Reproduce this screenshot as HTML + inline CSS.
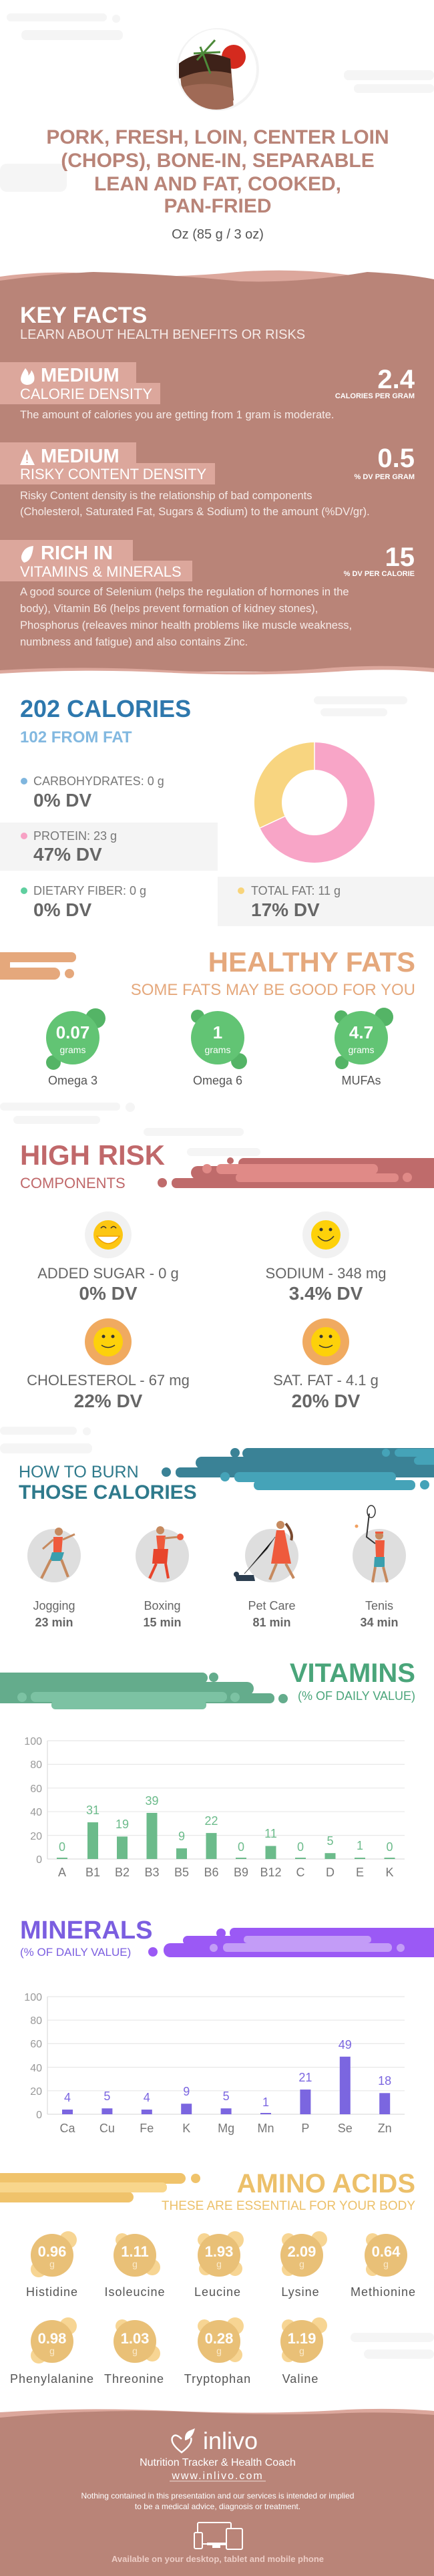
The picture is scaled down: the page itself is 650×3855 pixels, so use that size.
<!DOCTYPE html>
<html><head><meta charset="utf-8"><style>
html,body{margin:0;padding:0;background:#fff;}
svg{display:block;}
text{font-family:"Liberation Sans",sans-serif;}
</style></head><body>
<svg width="650" height="3855" viewBox="0 0 650 3855" xmlns="http://www.w3.org/2000/svg">
<g fill="#f5f5f5">
<rect x="10" y="20" width="150" height="12" rx="6"/><rect x="32" y="45" width="152" height="15" rx="7"/><circle cx="174" cy="28" r="6"/>
<rect x="515" y="105" width="135" height="15" rx="7"/><rect x="530" y="126" width="120" height="13" rx="6"/>
<rect x="0" y="245" width="100" height="42" rx="10"/>
<rect x="470" y="1042" width="140" height="12" rx="6"/><rect x="480" y="1060" width="100" height="12" rx="6"/>
<rect x="0" y="1650" width="180" height="12" rx="6"/><rect x="20" y="1670" width="130" height="12" rx="6"/><circle cx="195" cy="1657" r="7"/>
<rect x="215" y="1688" width="150" height="12" rx="6"/><rect x="280" y="1718" width="110" height="12" rx="6"/>
<rect x="0" y="2135" width="115" height="12" rx="6"/><rect x="0" y="2160" width="138" height="15" rx="7"/><circle cx="130" cy="2142" r="6"/>
<rect x="525" y="3491" width="125" height="14" rx="7"/><rect x="545" y="3516" width="105" height="14" rx="7"/>
</g>
<ellipse cx="326" cy="104" rx="62" ry="62" fill="#f3f3f3"/>
<circle cx="326" cy="104" r="58" fill="#fff"/>
<clipPath id="fc"><ellipse cx="324" cy="104" rx="57" ry="60"/></clipPath>
<g clip-path="url(#fc)">
<rect x="260" y="40" width="130" height="130" fill="#fff"/>
<ellipse cx="350" cy="85" rx="18" ry="18" fill="#d42a1e"/>
<path d="M268 95 Q300 70 345 88 L350 150 Q320 170 275 160 Z" fill="#8a5a45"/>
<path d="M268 95 Q300 70 345 88 L346 110 Q305 100 268 118 Z" fill="#3e2219"/>
<path d="M275 130 Q310 120 348 132 L350 165 L275 165 Z" fill="#a06a56"/>
<path d="M300 70 L315 110 M290 80 L330 78 M295 90 L322 60" stroke="#4d8a3a" stroke-width="3"/>
</g>
<g font-weight="bold" font-size="30" fill="#b98478" text-anchor="middle">
<text x="326" y="215">PORK, FRESH, LOIN, CENTER LOIN</text>
<text x="326" y="250">(CHOPS), BONE-IN, SEPARABLE</text>
<text x="326" y="285">LEAN AND FAT, COOKED,</text>
<text x="326" y="318">PAN-FRIED</text>
</g>
<text x="326" y="357" font-size="20" fill="#555" text-anchor="middle">Oz (85 g / 3 oz)</text>
<path d="M0 414 Q70 404 150 410 Q250 418 355 407 Q450 400 540 414 Q600 420 650 418 L650 430 L0 430Z" fill="#dca79c"/>
<path d="M0 420 Q70 410 140 407 Q250 410 360 421 Q450 424 550 407 Q610 410 650 418 L650 1005 L0 1005Z" fill="#b98478"/>
<text x="30" y="483" font-size="34" font-weight="bold" fill="#fff">KEY FACTS</text>
<text x="30" y="507" font-size="20" fill="#f6ebe8">LEARN ABOUT HEALTH BENEFITS OR RISKS</text>
<g fill="#dca79c">
<rect x="0" y="542" width="204" height="32"/><rect x="0" y="573" width="240" height="32"/>
<rect x="0" y="662" width="204" height="32"/><rect x="0" y="693" width="322" height="32"/>
<rect x="0" y="808" width="199" height="32"/><rect x="0" y="839" width="288" height="31"/>
</g>
<g fill="#fff">
<path d="M38 551 Q44 558 42 562 Q46 559 47 554 Q53 562 51 570 Q48 576 40 576 Q32 575 31 568 Q31 561 38 551Z"/>
<path d="M40 672 L52 696 L30 696Z"/><rect x="39.5" y="680" width="2" height="9" fill="#dca79c"/><rect x="39.5" y="691" width="2" height="2" fill="#dca79c"/>
<path d="M50 817 Q36 818 32 832 Q31 838 36 842 Q48 840 50 817Z"/>
</g>
<g fill="#fff" font-weight="bold">
<text x="61" y="571" font-size="29">MEDIUM</text>
<text x="61" y="692" font-size="29">MEDIUM</text>
<text x="61" y="837" font-size="29">RICH  IN</text>
<text x="621" y="581" font-size="40" text-anchor="end">2.4</text>
<text x="621" y="596" font-size="11" text-anchor="end">CALORIES PER GRAM</text>
<text x="621" y="699" font-size="40" text-anchor="end">0.5</text>
<text x="621" y="717" font-size="11" text-anchor="end">% DV PER GRAM</text>
<text x="621" y="847" font-size="40" text-anchor="end">15</text>
<text x="621" y="862" font-size="11" text-anchor="end">% DV PER CALORIE</text>
</g>
<g fill="#fff" font-size="22">
<text x="30" y="597">CALORIE DENSITY</text>
<text x="30" y="717">RISKY CONTENT DENSITY</text>
<text x="30" y="863">VITAMINS &amp; MINERALS</text>
</g>
<g fill="#f6ebe8" font-size="16.5">
<text x="30" y="626">The amount of calories you are getting from 1 gram is moderate.</text>
<text x="30" y="747">Risky Content density is the relationship of bad components</text>
<text x="30" y="771">(Cholesterol, Saturated Fat, Sugars &amp; Sodium) to the amount (%DV/gr).</text>
<text x="30" y="891">A good source of Selenium (helps the regulation of hormones in the</text>
<text x="30" y="916">body), Vitamin B6 (helps prevent formation of kidney stones),</text>
<text x="30" y="941">Phosphorus (releaves minor health problems like muscle weakness,</text>
<text x="30" y="966">numbness and fatigue) and also contains Zinc.</text>
</g>
<path d="M0 1003 Q120 996 250 1003 Q380 1010 500 999 Q580 994 650 1000 L650 1012 L0 1012Z" fill="#dca79c"/>
<path d="M0 1008 Q130 1000 260 1007 Q390 1013 520 1004 Q590 1000 650 1006 L650 1020 L0 1020Z" fill="#fff"/>
<text x="30" y="1073" font-size="36" font-weight="bold" fill="#2e78ad">202 CALORIES</text>
<text x="30" y="1111" font-size="24" font-weight="bold" fill="#82b8e0">102 FROM FAT</text>
<rect x="0" y="1231" width="326" height="72" fill="#f4f4f4"/>
<rect x="326" y="1312" width="324" height="74" fill="#f4f4f4"/>
<circle cx="36" cy="1169" r="5" fill="#7fb6de"/>
<circle cx="36" cy="1251" r="5" fill="#f7a1c4"/>
<circle cx="36" cy="1333" r="5" fill="#5fcf9f"/>
<circle cx="361" cy="1333" r="5" fill="#f8d47a"/>
<g font-size="18" fill="#777">
<text x="50" y="1175">CARBOHYDRATES: 0 g</text>
<text x="50" y="1257">PROTEIN: 23 g</text>
<text x="50" y="1339">DIETARY FIBER: 0 g</text>
<text x="376" y="1339">TOTAL FAT: 11 g</text>
</g>
<g font-size="28" font-weight="bold" fill="#666">
<text x="50" y="1207">0% DV</text>
<text x="50" y="1288">47% DV</text>
<text x="50" y="1371">0% DV</text>
<text x="376" y="1371">17% DV</text>
</g>
<path d="M471 1111 A90 90 0 1 1 389.4 1239 L426.6 1221.7 A49 49 0 1 0 471 1152 Z" fill="#f8a5c7"/>
<path d="M471 1111 A90 90 0 0 0 389.4 1239 L426.6 1221.7 A49 49 0 0 1 471 1152 Z" fill="#f8d580"/>
<line x1="471" y1="1111" x2="471" y2="1152" stroke="#fff" stroke-width="1.5"/>
<line x1="389.4" y1="1239" x2="426.6" y2="1221.7" stroke="#fff" stroke-width="1.5"/>
<g fill="#e5a87c">
<rect x="-10" y="1425" width="124" height="15" rx="7"/>
<rect x="-10" y="1448" width="100" height="18" rx="9"/>
<circle cx="104" cy="1457" r="7"/>
</g>
<rect x="0" y="1440" width="15" height="8" fill="#e5a87c"/>
<text x="622" y="1454" font-size="42" font-weight="bold" fill="#e5a87c" text-anchor="end">HEALTHY FATS</text>
<text x="622" y="1489" font-size="24" fill="#e5a87c" text-anchor="end">SOME FATS MAY BE GOOD FOR YOU</text>
<g fill="#54b466">
<circle cx="143" cy="1524" r="15"/><circle cx="80" cy="1590" r="11"/>
<circle cx="296" cy="1521" r="10"/><circle cx="358" cy="1588" r="12"/>
<circle cx="511" cy="1522" r="10"/><circle cx="575" cy="1522" r="14"/><circle cx="512" cy="1590" r="10"/>
</g>
<g fill="#62c474">
<circle cx="109" cy="1553" r="40"/><circle cx="326" cy="1553" r="40"/><circle cx="541" cy="1553" r="40"/>
</g>
<g fill="#fff" text-anchor="middle">
<text x="109" y="1554" font-size="26" font-weight="bold">0.07</text>
<text x="326" y="1554" font-size="26" font-weight="bold">1</text>
<text x="541" y="1554" font-size="26" font-weight="bold">4.7</text>
<text x="109" y="1576" font-size="14">grams</text>
<text x="326" y="1576" font-size="14">grams</text>
<text x="541" y="1576" font-size="14">grams</text>
</g>
<g font-size="18" fill="#555" text-anchor="middle">
<text x="109" y="1623">Omega 3</text><text x="326" y="1623">Omega 6</text><text x="541" y="1623">MUFAs</text>
</g>
<g fill="#bf6b6b">
<rect x="357" y="1733" width="320" height="16" rx="8"/>
<rect x="286" y="1745" width="380" height="20" rx="10"/>
<rect x="257" y="1763" width="420" height="15" rx="7"/>
<circle cx="243" cy="1770" r="7"/><circle cx="345" cy="1737" r="5"/>
</g>
<g fill="#e08a87">
<rect x="324" y="1742" width="242" height="15" rx="7"/>
<rect x="353" y="1756" width="244" height="13" rx="6"/>
<circle cx="310" cy="1749" r="7"/><circle cx="610" cy="1762" r="7"/>
</g>
<text x="30" y="1743" font-size="42" font-weight="bold" fill="#c0686a">HIGH RISK</text>
<text x="30" y="1778" font-size="22" fill="#c0686a">COMPONENTS</text>
<circle cx="162" cy="1848" r="35" fill="#f1f1f1"/><circle cx="488" cy="1848" r="35" fill="#f1f1f1"/>
<circle cx="162" cy="2008" r="35" fill="#f0aa60"/><circle cx="488" cy="2008" r="35" fill="#f0aa60"/>
<g fill="#fcc612"><circle cx="162" cy="1848" r="22"/></g>
<g fill="#fdd10a"><circle cx="488" cy="1848" r="22"/><circle cx="162" cy="2008" r="22"/><circle cx="488" cy="2008" r="22"/></g>
<path d="M145 1850 Q162 1872 179 1850 Z" fill="#fff" stroke="#f0a000" stroke-width="1.5"/>
<path d="M151 1838 q4 -5 8 0 M166 1838 q4 -5 8 0" stroke="#333" stroke-width="1.5" fill="none"/>
<g fill="#333"><circle cx="481" cy="1840" r="2.5"/><circle cx="495" cy="1840" r="2.5"/><circle cx="155" cy="2000" r="2.5"/><circle cx="169" cy="2000" r="2.5"/><circle cx="481" cy="2000" r="2.5"/><circle cx="495" cy="2000" r="2.5"/></g>
<g stroke="#333" stroke-width="1.5" fill="none">
<path d="M476 1850 Q488 1864 500 1850"/><path d="M152 2013 Q162 2020 172 2013"/><path d="M478 2013 Q488 2020 498 2013"/>
</g>
<g font-size="22" fill="#666" text-anchor="middle">
<text x="162" y="1913">ADDED SUGAR - 0 g</text><text x="488" y="1913">SODIUM - 348 mg</text>
<text x="162" y="2073">CHOLESTEROL - 67 mg</text><text x="488" y="2073">SAT. FAT - 4.1 g</text>
</g>
<g font-size="28" font-weight="bold" fill="#666" text-anchor="middle">
<text x="162" y="1945">0% DV</text><text x="488" y="1945">3.4% DV</text>
<text x="162" y="2106">22% DV</text><text x="488" y="2106">20% DV</text>
</g>
<g fill="#3a8296">
<rect x="363" y="2167" width="300" height="16" rx="8"/><circle cx="352" cy="2174" r="7"/>
<rect x="293" y="2180" width="370" height="18" rx="9"/>
<rect x="263" y="2196" width="400" height="15" rx="7"/><circle cx="249" cy="2203" r="7"/>
</g>
<g fill="#45a3b8">
<rect x="351" y="2203" width="242" height="15" rx="7"/><circle cx="337" cy="2210" r="7"/>
<rect x="380" y="2215" width="242" height="15" rx="7"/><circle cx="636" cy="2222" r="7"/>
<rect x="591" y="2168" width="70" height="12" rx="6"/><circle cx="578" cy="2174" r="6"/>
<rect x="620" y="2180" width="40" height="12" rx="6"/>
</g>
<text x="28" y="2211" font-size="25" fill="#2f7a8c">HOW TO BURN</text>
<text x="28" y="2243" font-size="30" font-weight="bold" fill="#2f7a8c">THOSE CALORIES</text>
<g fill="#dedede"><circle cx="81" cy="2328" r="40"/><circle cx="243" cy="2328" r="40"/><circle cx="407" cy="2328" r="40"/><circle cx="568" cy="2328" r="40"/></g>
<g>
<circle cx="88" cy="2292" r="6" fill="#c68a5f"/><path d="M80 2300 L94 2300 L92 2325 L80 2325Z" fill="#ef5a3c"/>
<path d="M78 2323 L96 2323 L92 2336 L74 2336Z" fill="#3a9fae"/><path d="M76 2334 L62 2362 M92 2334 L102 2360" stroke="#c68a5f" stroke-width="4"/>
<path d="M80 2304 L64 2318 M94 2304 L112 2296" stroke="#c68a5f" stroke-width="3"/>
<circle cx="240" cy="2290" r="6" fill="#c68a5f"/><path d="M234 2298 L248 2298 L246 2318 L236 2318Z" fill="#ef5a3c"/>
<path d="M246 2302 L268 2300" stroke="#c68a5f" stroke-width="3"/><circle cx="270" cy="2300" r="5" fill="#ef5a3c"/>
<path d="M230 2318 L252 2318 L250 2340 L228 2340Z" fill="#e8452c"/><path d="M234 2340 L224 2362 M248 2340 L252 2362" stroke="#e8452c" stroke-width="4"/>
<circle cx="420" cy="2282" r="6" fill="#c68a5f"/><path d="M428 2280 Q440 2295 436 2305" stroke="#7a4a30" stroke-width="4" fill="none"/>
<path d="M414 2290 L426 2290 L436 2340 L406 2340Z" fill="#ef5a3c"/><path d="M414 2340 L404 2364 M428 2340 L440 2362" stroke="#c68a5f" stroke-width="4"/>
<path d="M412 2300 L400 2318 L366 2355" stroke="#555" stroke-width="1"/>
<path d="M352 2357 L380 2357 L382 2366 L354 2366Z" fill="#2c3e50"/><circle cx="354" cy="2356" r="4" fill="#2c3e50"/>
<circle cx="568" cy="2298" r="6" fill="#c68a5f"/><rect x="562" y="2292" width="12" height="3" fill="#ef5a3c"/>
<path d="M562 2305 L576 2305 L575 2330 L563 2330Z" fill="#ef5a3c"/><path d="M561 2330 L576 2330 L576 2345 L560 2345Z" fill="#3a9fae"/>
<path d="M562 2345 L558 2368 M574 2345 L580 2368" stroke="#c68a5f" stroke-width="4"/>
<path d="M562 2310 L549 2300 L553 2265" stroke="#333" stroke-width="2" fill="none"/><ellipse cx="556" cy="2262" rx="6" ry="9" fill="none" stroke="#333" stroke-width="1.5"/>
<circle cx="534" cy="2284" r="2.5" fill="#f0a060"/>
</g>
<g font-size="18" fill="#666" text-anchor="middle">
<text x="81" y="2409">Jogging</text><text x="243" y="2409">Boxing</text><text x="407" y="2409">Pet Care</text><text x="568" y="2409">Tenis</text>
</g>
<g font-size="18" font-weight="bold" fill="#666" text-anchor="middle">
<text x="81" y="2434">23 min</text><text x="243" y="2434">15 min</text><text x="407" y="2434">81 min</text><text x="568" y="2434">34 min</text>
</g>
<g fill="#64ac8c">
<rect x="-10" y="2503" width="321" height="16" rx="8"/><circle cx="320" cy="2510" r="7"/>
<rect x="-10" y="2517" width="390" height="20" rx="10"/>
<rect x="-10" y="2534" width="421" height="15" rx="7"/><circle cx="424" cy="2542" r="7"/>
</g>
<g fill="#7cc2a3">
<rect x="46" y="2532" width="294" height="15" rx="7"/><circle cx="33" cy="2540" r="7"/><circle cx="352" cy="2540" r="7"/>
<rect x="77" y="2545" width="232" height="13" rx="6"/>
</g>
<text x="622" y="2517" font-size="40" font-weight="bold" fill="#4aa57a" text-anchor="end">VITAMINS</text>
<text x="622" y="2544" font-size="18" fill="#4aa57a" text-anchor="end">(% OF DAILY VALUE)</text>
<g stroke="#e8e8e8" stroke-width="1.2">
<line x1="71" y1="2605" x2="606" y2="2605"/><line x1="71" y1="2640.4" x2="606" y2="2640.4"/><line x1="71" y1="2675.8" x2="606" y2="2675.8"/><line x1="71" y1="2711.2" x2="606" y2="2711.2"/><line x1="71" y1="2746.6" x2="606" y2="2746.6"/>
<line x1="71" y1="2782" x2="606" y2="2782" stroke="#ddd"/><line x1="71" y1="2605" x2="71" y2="2782" stroke="#ddd"/>
</g>
<g font-size="16" fill="#999" text-anchor="end">
<text x="63" y="2611">100</text><text x="63" y="2646">80</text><text x="63" y="2682">60</text><text x="63" y="2717">40</text><text x="63" y="2753">20</text><text x="63" y="2788">0</text>
</g>
<g fill="#6cbb8b">
<rect x="85" y="2780" width="16" height="2"/>
<rect x="131" y="2727.1" width="16" height="54.9"/>
<rect x="175" y="2748.4" width="16" height="33.6"/>
<rect x="219.5" y="2713" width="16" height="69"/>
<rect x="264" y="2766.1" width="16" height="15.9"/>
<rect x="308.5" y="2743.1" width="16" height="38.9"/>
<rect x="353" y="2780" width="16" height="2"/>
<rect x="397.5" y="2762.5" width="16" height="19.5"/>
<rect x="442" y="2780" width="16" height="2"/>
<rect x="486.5" y="2773.2" width="16" height="8.8"/>
<rect x="531" y="2780" width="16" height="2"/>
<rect x="575.5" y="2780" width="16" height="2"/>
</g>
<g font-size="18" fill="#6cbb8b" text-anchor="middle">
<text x="93" y="2770">0</text><text x="139" y="2715">31</text><text x="183" y="2736">19</text><text x="227.5" y="2701">39</text>
<text x="272" y="2754">9</text><text x="316.5" y="2731">22</text><text x="361" y="2770">0</text><text x="405.5" y="2750">11</text>
<text x="450" y="2770">0</text><text x="494.5" y="2761">5</text><text x="539" y="2768">1</text><text x="583.5" y="2770">0</text>
</g>
<g font-size="18" fill="#777" text-anchor="middle">
<text x="93" y="2808">A</text><text x="139" y="2808">B1</text><text x="183" y="2808">B2</text><text x="227.5" y="2808">B3</text>
<text x="272" y="2808">B5</text><text x="316.5" y="2808">B6</text><text x="361" y="2808">B9</text><text x="405.5" y="2808">B12</text>
<text x="450" y="2808">C</text><text x="494.5" y="2808">D</text><text x="539" y="2808">E</text><text x="583.5" y="2808">K</text>
</g>
<g fill="#9b59f5">
<rect x="344" y="2885" width="320" height="15" rx="7"/><circle cx="331" cy="2893" r="7"/>
<rect x="274" y="2897" width="390" height="14" rx="7"/>
<rect x="245" y="2908" width="420" height="21" rx="10"/><circle cx="229" cy="2921" r="7"/>
</g>
<g fill="#c39cf7">
<rect x="365" y="2897" width="191" height="11" rx="5"/>
<rect x="334" y="2908" width="253" height="13" rx="6"/><circle cx="320" cy="2915" r="6"/><circle cx="600" cy="2915" r="6"/>
</g>
<text x="30" y="2901" font-size="38" font-weight="bold" fill="#7b5ee0">MINERALS</text>
<text x="30" y="2927" font-size="17" fill="#7b5ee0">(% OF DAILY VALUE)</text>
<g stroke="#e8e8e8" stroke-width="1.2">
<line x1="71" y1="2988" x2="606" y2="2988"/><line x1="71" y1="3023.2" x2="606" y2="3023.2"/><line x1="71" y1="3058.4" x2="606" y2="3058.4"/><line x1="71" y1="3093.6" x2="606" y2="3093.6"/><line x1="71" y1="3128.8" x2="606" y2="3128.8"/>
<line x1="71" y1="3164" x2="606" y2="3164" stroke="#ddd"/><line x1="71" y1="2988" x2="71" y2="3164" stroke="#ddd"/>
</g>
<g font-size="16" fill="#999" text-anchor="end">
<text x="63" y="2994">100</text><text x="63" y="3029">80</text><text x="63" y="3064">60</text><text x="63" y="3100">40</text><text x="63" y="3135">20</text><text x="63" y="3170">0</text>
</g>
<g fill="#7b66e0">
<rect x="93" y="3157" width="16" height="7"/>
<rect x="152.4" y="3155.2" width="16" height="8.8"/>
<rect x="211.8" y="3157" width="16" height="7"/>
<rect x="271.2" y="3148.2" width="16" height="15.8"/>
<rect x="330.6" y="3155.2" width="16" height="8.8"/>
<rect x="390" y="3162" width="16" height="2"/>
<rect x="449.4" y="3127" width="16" height="37"/>
<rect x="508.8" y="3077.8" width="16" height="86.2"/>
<rect x="568.2" y="3132.3" width="16" height="31.7"/>
</g>
<g font-size="18" fill="#7b66e0" text-anchor="middle">
<text x="101" y="3145">4</text><text x="160.4" y="3143">5</text><text x="219.8" y="3145">4</text><text x="279.2" y="3136">9</text>
<text x="338.6" y="3143">5</text><text x="398" y="3152">1</text><text x="457.4" y="3115">21</text><text x="516.8" y="3066">49</text><text x="576.2" y="3120">18</text>
</g>
<g font-size="18" fill="#777" text-anchor="middle">
<text x="101" y="3191">Ca</text><text x="160.4" y="3191">Cu</text><text x="219.8" y="3191">Fe</text><text x="279.2" y="3191">K</text>
<text x="338.6" y="3191">Mg</text><text x="398" y="3191">Mn</text><text x="457.4" y="3191">P</text><text x="516.8" y="3191">Se</text><text x="576.2" y="3191">Zn</text>
</g>
<g fill="#f0c36b">
<rect x="-10" y="3252" width="288" height="16" rx="8"/><circle cx="293" cy="3260" r="7"/>
<rect x="-10" y="3280" width="210" height="16" rx="8"/><circle cx="191" cy="3289" r="7"/>
</g>
<g fill="#f8d68c"><rect x="-10" y="3266" width="260" height="15" rx="7"/><circle cx="202" cy="3274" r="7"/></g>
<text x="622" y="3281" font-size="40" font-weight="bold" fill="#ecc06a" text-anchor="end">AMINO ACIDS</text>
<text x="622" y="3307" font-size="19" fill="#ecc06a" text-anchor="end">THESE ARE ESSENTIAL FOR YOUR BODY</text>
<g fill="#f7d593">
<circle cx="102" cy="3352" r="13"/><circle cx="58" cy="3396" r="12"/>
<circle cx="183" cy="3352" r="10"/><circle cx="228" cy="3393" r="12"/>
<circle cx="306" cy="3352" r="10"/><circle cx="352" cy="3352" r="13"/><circle cx="308" cy="3395" r="10"/><circle cx="352" cy="3395" r="11"/>
<circle cx="432" cy="3352" r="10"/><circle cx="478" cy="3351" r="12"/><circle cx="432" cy="3396" r="10"/>
<circle cx="558" cy="3352" r="10"/><circle cx="558" cy="3396" r="10"/>
<circle cx="102" cy="3481" r="13"/><circle cx="58" cy="3525" r="12"/>
<circle cx="183" cy="3481" r="10"/><circle cx="228" cy="3522" r="12"/>
<circle cx="306" cy="3481" r="10"/><circle cx="352" cy="3481" r="13"/><circle cx="352" cy="3524" r="11"/>
<circle cx="432" cy="3481" r="10"/><circle cx="478" cy="3480" r="12"/><circle cx="432" cy="3525" r="10"/>
</g>
<g fill="#e9c077">
<circle cx="78" cy="3375" r="32"/><circle cx="202" cy="3375" r="32"/><circle cx="328" cy="3375" r="32"/><circle cx="452" cy="3375" r="32"/><circle cx="578" cy="3375" r="32"/>
<circle cx="78" cy="3504" r="32"/><circle cx="202" cy="3504" r="32"/><circle cx="328" cy="3504" r="32"/><circle cx="452" cy="3504" r="32"/>
</g>
<g fill="#fff" font-size="22" font-weight="bold" text-anchor="middle">
<text x="78" y="3377">0.96</text><text x="202" y="3377">1.11</text><text x="328" y="3377">1.93</text><text x="452" y="3377">2.09</text><text x="578" y="3377">0.64</text>
<text x="78" y="3507">0.98</text><text x="202" y="3507">1.03</text><text x="328" y="3507">0.28</text><text x="452" y="3507">1.19</text>
</g>
<g fill="#fbeacb" font-size="14" text-anchor="middle">
<text x="78" y="3393">g</text><text x="202" y="3393">g</text><text x="328" y="3393">g</text><text x="452" y="3393">g</text><text x="578" y="3393">g</text>
<text x="78" y="3523">g</text><text x="202" y="3523">g</text><text x="328" y="3523">g</text><text x="452" y="3523">g</text>
</g>
<g fill="#555" font-size="18" letter-spacing="1" text-anchor="middle">
<text x="78" y="3436">Histidine</text><text x="202" y="3436">Isoleucine</text><text x="326" y="3436">Leucine</text><text x="450" y="3436">Lysine</text><text x="574" y="3436">Methionine</text>
<text x="78" y="3566">Phenylalanine</text><text x="201" y="3566">Threonine</text><text x="326" y="3566">Tryptophan</text><text x="450" y="3566">Valine</text>
</g>
<path d="M0 3610 Q120 3602 260 3608 Q400 3614 520 3606 Q590 3603 650 3608 L650 3625 L0 3625Z" fill="#dca79c"/>
<path d="M0 3618 Q130 3605 270 3609 Q420 3616 520 3611 Q590 3609 650 3614 L650 3855 L0 3855Z" fill="#b98478"/>
<path d="M272 3650 Q262 3640 258 3648 Q255 3657 272 3670 Q289 3657 286 3648" fill="none" stroke="#fff" stroke-width="2.5"/>
<path d="M285 3637 Q276 3640 277 3652 Q288 3650 292 3634Z" fill="#fff"/>
<text x="304" y="3665" font-size="36" fill="#fff">inlivo</text>
<g fill="#fff" text-anchor="middle">
<text x="326" y="3690" font-size="16">Nutrition Tracker &amp; Health Coach</text>
<text x="326" y="3710" font-size="16" letter-spacing="2">www.inlivo.com</text>
<text x="326" y="3739" font-size="12">Nothing contained in this presentation and our services is intended or implied</text>
<text x="326" y="3755" font-size="12">to be a medical advice, diagnosis or treatment.</text>
</g>
<line x1="254" y1="3713" x2="398" y2="3713" stroke="#f0dcd8" stroke-width="1"/>
<g fill="none" stroke="#fff" stroke-width="2">
<rect x="296" y="3775" width="50" height="32" rx="2"/>
<rect x="291" y="3790" width="12" height="24" rx="2" fill="#b98478"/>
<rect x="339" y="3784" width="24" height="31" rx="2" fill="#b98478"/>
</g>
<rect x="310" y="3805" width="28" height="4" fill="#fff"/><rect x="318" y="3809" width="12" height="4" fill="#fff"/>
<text x="326" y="3834" font-size="13" font-weight="bold" fill="#ecccc5" text-anchor="middle">Available on your desktop, tablet and mobile phone</text>
</svg>
</body></html>
